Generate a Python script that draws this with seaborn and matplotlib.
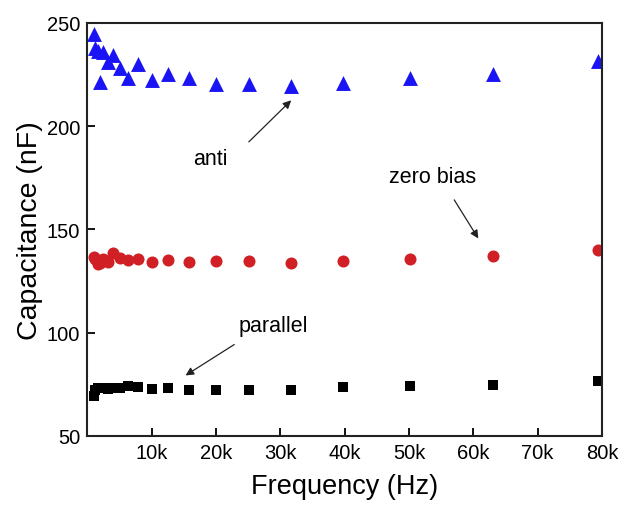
import numpy as np
import pandas as pd
import matplotlib
matplotlib.use("Agg")
import matplotlib.pyplot as plt
import seaborn as sns

# frequencies in Hz (log-spaced measurement points)
freq_anti = [1000, 1259, 1585, 1995, 2512, 3162, 3981, 5012, 6310, 7943,
             10000, 12589, 15849, 19953, 25119, 31623, 39811, 50119, 63096, 79433]
cap_anti = [244.9, 237.8, 236.5, 221.5, 236.1, 231.3, 234.5, 228.1, 223.3, 230.0,
            222.4, 225.5, 223.3, 220.5, 220.4, 219.7, 220.9, 223.3, 225.4, 231.8]

freq_zero = [1000, 1259, 1585, 1995, 2512, 3162, 3981, 5012, 6310, 7943,
             10000, 12589, 15849, 19953, 25119, 31623, 39811, 50119, 63096, 79433]
cap_zero = [136.8, 135.5, 133.1, 134.0, 135.7, 134.4, 138.4, 136.0, 135.2, 135.5,
            134.4, 135.2, 134.4, 134.7, 134.7, 133.9, 134.9, 135.7, 137.3, 140.0]

freq_par = [1000, 1259, 1585, 1995, 2512, 3162, 3981, 5012, 6310, 7943,
            10000, 12589, 15849, 19953, 25119, 31623, 39811, 50119, 63096, 79433]
cap_par = [69.5, 72.5, 73.0, 73.0, 73.2, 72.8, 73.3, 73.2, 74.3, 73.5,
           72.9, 73.2, 72.4, 72.4, 72.4, 72.4, 73.5, 74.0, 74.8, 76.7]

xticks = [10000, 20000, 30000, 40000, 50000, 60000, 70000, 80000]
xtick_labels = ["10k", "20k", "30k", "40k", "50k", "60k", "70k", "80k"]
yticks = [50, 100, 150, 200, 250]

sns.set_style("ticks")
plt.rcParams['font.family'] = ['Liberation Sans', 'DejaVu Sans']
plt.rcParams['text.color'] = 'black'

fig = plt.figure(figsize=(6.21, 5.06), dpi=100)
ax = fig.add_axes([0.1406, 0.1364, 0.8288, 0.8162])

sns.scatterplot(x=freq_anti, y=cap_anti, marker='^', s=115, color='#1a14f5',
                linewidth=0, ax=ax)
sns.scatterplot(x=freq_zero, y=cap_zero, marker='o', s=75, color='#d02025',
                linewidth=0, ax=ax)
sns.scatterplot(x=freq_par, y=cap_par, marker='s', s=60, color='black',
                linewidth=0, ax=ax)

ax.set_xlim(0, 80000)
ax.set_ylim(50, 250)
ax.set_xticks(xticks)
ax.set_xticklabels(xtick_labels)
ax.set_yticks(yticks)
ax.tick_params(direction='in', length=6, width=1.3, labelsize=14.5, pad=5,
               colors='black')
for sp in ax.spines.values():
    sp.set_visible(True)
    sp.set_linewidth(1.5)
    sp.set_color('#222222')

ax.set_xlabel('Frequency (Hz)', fontsize=19.5, labelpad=8, color='black')
ax.set_ylabel('Capacitance (nF)', fontsize=20.5, labelpad=3, color='black')

arrow = dict(arrowstyle='-|>', color='#222222', lw=0.9, mutation_scale=12)
ax.annotate('', xy=(32000, 213.5), xytext=(24800, 191.5), arrowprops=arrow)
ax.text(19100, 184.3, 'anti', fontsize=15.5, ha='center', va='center')

ax.annotate('', xy=(61000, 144.5), xytext=(56800, 165.5), arrowprops=arrow)
ax.text(53700, 175.5, 'zero bias', fontsize=15.5, ha='center', va='center')

ax.annotate('', xy=(14900, 78.6), xytext=(23200, 95), arrowprops=arrow)
ax.text(28900, 103.6, 'parallel', fontsize=15.5, ha='center', va='center')

fig.savefig('out.png', dpi=100)
